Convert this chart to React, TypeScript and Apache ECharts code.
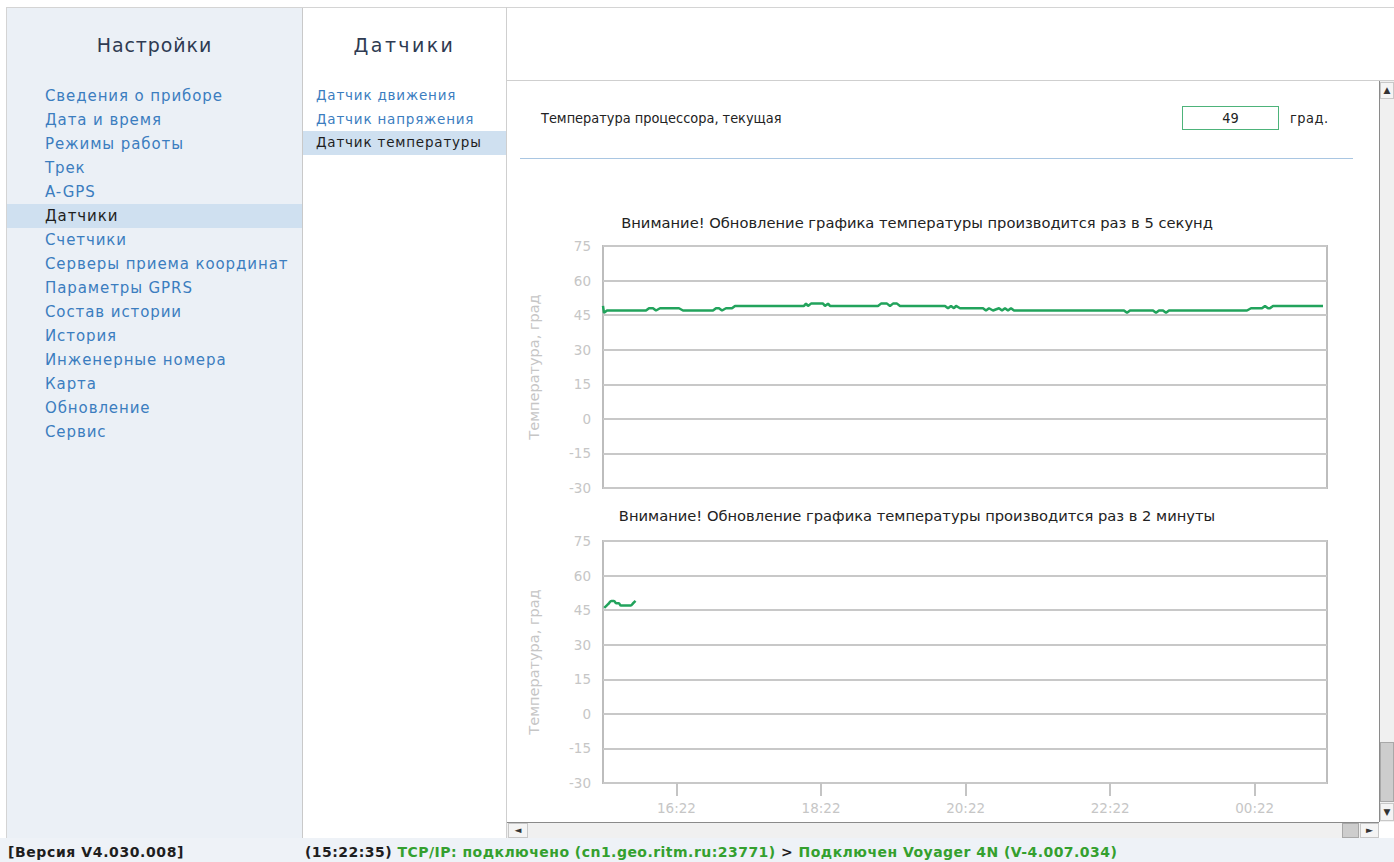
import React, { useEffect, useRef } from "react";
import * as echarts from "echarts";

// ---------- UI texts ----------
const settingsTitle = "Настройки";
const settingsItems = [
  "Сведения о приборе",
  "Дата и время",
  "Режимы работы",
  "Трек",
  "A-GPS",
  "Датчики",
  "Счетчики",
  "Серверы приема координат",
  "Параметры GPRS",
  "Состав истории",
  "История",
  "Инженерные номера",
  "Карта",
  "Обновление",
  "Сервис",
];
const selectedSetting = "Датчики";
const sensorsTitle = "Датчики";
const sensorItems = ["Датчик движения", "Датчик напряжения", "Датчик температуры"];
const selectedSensor = "Датчик температуры";
const currentLabel = "Температура процессора, текущая";
const currentValue = "49";
const unitLabel = "град.";
const versionText = "[Версия V4.030.008]";
const statusTime = "(15:22:35)";
const statusTcp = "TCP/IP: подключено (cn1.geo.ritm.ru:23771)";
const statusArrow = " > ";
const statusDevice = "Подключен Voyager 4N (V-4.007.034)";

// ---------- chart texts ----------
const chartTitles = [
  "Внимание! Обновление графика температуры производится раз в 5 секунд",
  "Внимание! Обновление графика температуры производится раз в 2 минуты",
];
const yAxisName = "Температура, град";
const yMin = -30;
const yMax = 75;
const yStep = 15;

// ---------- fast chart (5 s samples), seconds from window start ----------
const fastWindow = [0, 724];
const fastTimes = [
  0, 1, 4, 43, 46, 50, 53, 57, 76, 80, 110, 113, 116, 119, 123, 129, 132, 201,
  203, 205, 208, 220, 222, 225, 227, 275, 278, 284, 287, 290, 294, 297, 342,
  345, 348, 351, 353, 357, 380, 383, 386, 390, 396, 399, 402, 405, 408, 411,
  521, 524, 527, 550, 553, 556, 560, 563, 566, 644, 648, 659, 662, 665, 667,
  670, 720,
];
const fastValues = [
  49, 46, 47, 47, 48, 48, 47, 48, 48, 47, 47, 48, 48, 47, 48, 48, 49, 49,
  50, 49, 50, 50, 49, 50, 49, 49, 50, 50, 49, 50, 50, 49, 49,
  48, 49, 48, 49, 48, 48, 47, 48, 47, 48, 47, 48, 47, 48, 47,
  47, 46, 47, 47, 46, 47, 47, 46, 47, 47, 48, 48, 49, 48, 48,
  49, 49,
];

// ---------- slow chart (2 min samples), minutes relative to 16:22 ----------
const slowWindow = [-61, 540];
const slowTimes = [-60, -58, -56, -54, -52, -50, -48, -46, -44, -42, -40, -38, -36, -34];
const slowValues = [46, 47, 48, 49, 49, 48, 48, 47, 47, 47, 47, 47, 48, 49];
const timeTickOffsets = [0, 120, 240, 360, 480];
const baseClockMinutes = 16 * 60 + 22;

const UI_FONT = "'DejaVu Sans', Verdana, sans-serif";
const LINE_COLOR = "#22a35c";
const AXIS_TEXT = "#c6c6c6";
const GRID_LINE = "#c8c8c8";

function clock(offset: number): string {
  const m = (((baseClockMinutes + offset) % 1440) + 1440) % 1440;
  const hh = Math.floor(m / 60);
  const mm = m % 60;
  return String(hh).padStart(2, "0") + ":" + String(mm).padStart(2, "0");
}

function TempCharts() {
  const ref = useRef<HTMLDivElement>(null);
  useEffect(() => {
    if (!ref.current) return;
    const chart = echarts.init(ref.current, undefined, { renderer: "svg" });
    const yAxisCommon = {
      type: "value" as const,
      min: yMin,
      max: yMax,
      interval: yStep,
      name: yAxisName,
      nameLocation: "middle" as const,
      nameGap: 62,
      nameTextStyle: { color: AXIS_TEXT, fontSize: 14.5, fontFamily: "DejaVu Sans" },
      axisLine: { show: false },
      axisTick: { show: false },
      axisLabel: { color: AXIS_TEXT, fontSize: 13.5, margin: 12, fontFamily: "DejaVu Sans" },
      splitLine: { show: true, lineStyle: { color: GRID_LINE, width: 2 } },
    };
    const gridCommon = {
      left: 96,
      width: 724,
      height: 242,
      show: true,
      borderColor: "#bdbdbd",
      borderWidth: 2,
      backgroundColor: "transparent",
    };
    chart.setOption({
      animation: false,
      title: chartTitles.map((t, i) => ({
        text: t,
        left: 405,
        top: i === 0 ? 50 : 343,
        textAlign: "center",
        textStyle: { fontSize: 14.7, fontWeight: "normal", color: "#222", fontFamily: "DejaVu Sans" },
      })),
      grid: [
        { ...gridCommon, top: 86 },
        { ...gridCommon, top: 381 },
      ],
      xAxis: [
        { type: "value", gridIndex: 0, min: fastWindow[0], max: fastWindow[1], show: false },
        {
          type: "value",
          gridIndex: 1,
          min: slowWindow[0],
          max: slowWindow[1],
          axisLine: { show: false, onZero: false },
          axisTick: {
            show: true,
            customValues: timeTickOffsets,
            length: 13,
            lineStyle: { color: "#c4c4c4", width: 2 },
          },
          axisLabel: {
            customValues: timeTickOffsets,
            formatter: (v: number) => clock(v),
            color: AXIS_TEXT,
            fontSize: 13.5,
            margin: 18,
            fontFamily: "DejaVu Sans",
          },
          splitLine: { show: false },
        },
      ],
      yAxis: [
        { ...yAxisCommon, gridIndex: 0 },
        { ...yAxisCommon, gridIndex: 1 },
      ],
      series: [
        {
          type: "line",
          xAxisIndex: 0,
          yAxisIndex: 0,
          data: fastTimes.map((t, i) => [t, fastValues[i]]),
          showSymbol: false,
          lineStyle: { color: LINE_COLOR, width: 2.5 },
        },
        {
          type: "line",
          xAxisIndex: 1,
          yAxisIndex: 1,
          smooth: true,
          data: slowTimes.map((t, i) => [t, slowValues[i]]),
          showSymbol: false,
          lineStyle: { color: LINE_COLOR, width: 2.5 },
        },
      ],
    });
    return () => chart.dispose();
  }, []);
  return (
    <div
      ref={ref}
      style={{ position: "absolute", left: 507, top: 160, width: 871, height: 662 }}
    />
  );
}

const abs = (l: number, t: number, w: number, h: number, extra: React.CSSProperties = {}): React.CSSProperties => ({
  position: "absolute",
  left: l,
  top: t,
  width: w,
  height: h,
  boxSizing: "border-box",
  ...extra,
});

export default function App() {
  useEffect(() => {
    document.body.style.margin = "0";
  }, []);
  return (
    <div
      style={{
        position: "fixed",
        left: 0,
        top: 0,
        width: 1394,
        height: 862,
        overflow: "hidden",
        background: "#ffffff",
        fontFamily: UI_FONT,
      }}
    >
      {/* top border */}
      <div style={abs(6, 7, 1388, 1, { background: "#d4d4d4" })} />
      {/* left panel */}
      <div style={abs(6, 8, 297, 830, { background: "#ebf0f6", borderLeft: "1px solid #d4d4d4", borderRight: "1px solid #c9c9c9" })} />
      <div style={abs(6, 29, 297, 32, { textAlign: "center", fontSize: 19, letterSpacing: 0.9, color: "#2f3b52", lineHeight: "32px" })}>
        {settingsTitle}
      </div>
      {settingsItems.map((s, i) => {
        const sel = s === selectedSetting;
        return (
          <div
            key={s}
            style={abs(7, 84 + i * 24, 295, 24, {
              background: sel ? "#cfe0f0" : "transparent",
              color: sel ? "#1e1e1e" : "#3b7dbf",
              fontSize: 15,
              letterSpacing: 0.9,
              lineHeight: "24px",
              paddingLeft: 38,
              whiteSpace: "nowrap",
            })}
          >
            {s}
          </div>
        );
      })}
      {/* middle panel */}
      <div style={abs(303, 29, 203, 32, { textAlign: "center", fontSize: 19, letterSpacing: 2.4, color: "#2f3b52", lineHeight: "32px" })}>
        {sensorsTitle}
      </div>
      {sensorItems.map((s, i) => {
        const sel = s === selectedSensor;
        return (
          <div
            key={s}
            style={abs(303, 84 + i * 23.5, 203, 23.5, {
              background: sel ? "#cfe0f0" : "transparent",
              color: sel ? "#1e1e1e" : "#3b7dbf",
              fontSize: 13.5,
              letterSpacing: 0.8,
              lineHeight: "23.5px",
              paddingLeft: 13,
              whiteSpace: "nowrap",
            })}
          >
            {s}
          </div>
        );
      })}
      {/* right panel borders */}
      <div style={abs(506, 7, 1, 831, { background: "#cfcfcf" })} />
      <div style={abs(506, 80, 888, 1, { background: "#cfcfcf" })} />
      {/* current temperature row */}
      <div style={abs(541, 106, 400, 24, { fontFamily: "'DejaVu Sans Condensed', 'DejaVu Sans', sans-serif", fontSize: 14.4, color: "#222", lineHeight: "24px" })}>
        {currentLabel}
      </div>
      <div
        style={abs(1182, 106, 97, 24, {
          border: "1px solid #4db37a",
          textAlign: "center",
          fontFamily: "'DejaVu Sans Condensed', 'DejaVu Sans', sans-serif",
          fontSize: 14.4,
          color: "#222",
          lineHeight: "22px",
        })}
      >
        {currentValue}
      </div>
      <div style={abs(1290, 106, 60, 24, { fontFamily: "'DejaVu Sans Condensed', 'DejaVu Sans', sans-serif", fontSize: 14.4, letterSpacing: 0.5, color: "#222", lineHeight: "24px" })}>
        {unitLabel}
      </div>
      <div style={abs(520, 158, 833, 1, { background: "#a9c6e2" })} />

      <TempCharts />

      {/* vertical scrollbar */}
      <div style={abs(1379, 81, 15, 741, { background: "#f0f0f0", borderLeft: "1px solid #8a8a8a" })} />
      <div style={abs(1380, 82, 14, 17, { background: "#f4f4f4", border: "1px solid #c8c8c8", fontSize: 9, color: "#333", textAlign: "center", lineHeight: "15px" })}>
        ▲
      </div>
      <div style={abs(1380, 742, 14, 60, { background: "#cdcdcd", border: "1px solid #a8a8a8" })} />
      <div style={abs(1380, 803, 14, 18, { background: "#f4f4f4", border: "1px solid #c8c8c8", fontSize: 9, color: "#333", textAlign: "center", lineHeight: "16px" })}>
        ▼
      </div>
      {/* horizontal scrollbar */}
      <div style={abs(507, 822, 872, 16, { background: "#f0f0f0", borderTop: "1px solid #8a8a8a" })} />
      <div style={abs(508, 823, 20, 15, { background: "#f4f4f4", border: "1px solid #c8c8c8", fontSize: 9, color: "#333", textAlign: "center", lineHeight: "13px" })}>
        ◄
      </div>
      <div style={abs(1342, 823, 17, 15, { background: "#cdcdcd", border: "1px solid #a8a8a8" })} />
      <div style={abs(1360, 823, 19, 15, { background: "#f4f4f4", border: "1px solid #c8c8c8", fontSize: 9, color: "#333", textAlign: "center", lineHeight: "13px" })}>
        ►
      </div>
      <div style={abs(1379, 822, 15, 16, { background: "#ffffff" })} />

      {/* status bar */}
      <div style={abs(0, 838, 1394, 24, { background: "#eef2f7" })} />
      <div style={abs(8, 841, 290, 22, { fontSize: 14, letterSpacing: 0.6, fontWeight: "bold", color: "#1e1e1e", lineHeight: "22px", whiteSpace: "nowrap" })}>
        {versionText}
      </div>
      <div style={abs(305, 841, 1080, 22, { fontSize: 14, letterSpacing: 0.47, fontWeight: "bold", lineHeight: "22px", whiteSpace: "nowrap" })}>
        <span style={{ color: "#1e1e1e" }}>{statusTime} </span>
        <span style={{ color: "#34a02e" }}>{statusTcp}</span>
        <span style={{ color: "#1e1e1e" }}>{statusArrow}</span>
        <span style={{ color: "#34a02e" }}>{statusDevice}</span>
      </div>
    </div>
  );
}
